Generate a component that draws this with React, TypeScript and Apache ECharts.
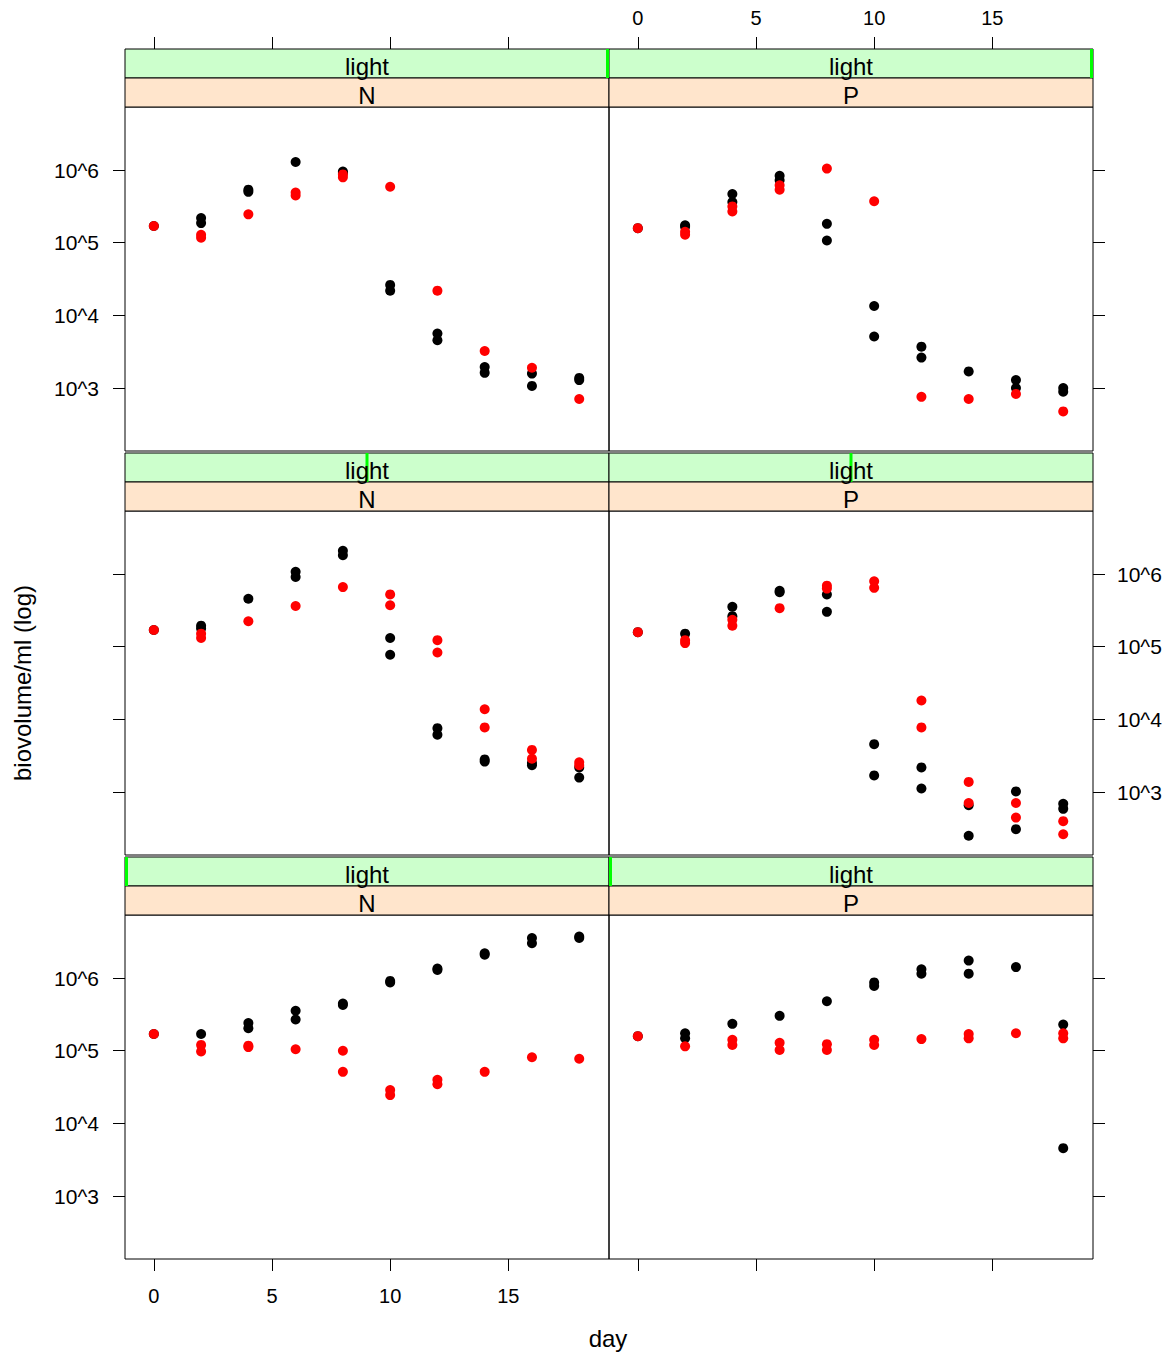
import React, { useEffect, useRef } from "react";
import * as echarts from "echarts";

// ---------- data (log10 of biovolume/ml) ----------
const nutrients = ["N", "P"];
const lightName = "light";
// shingle/level indicator position in each row (top, middle, bottom)
const lightLevelFrac = [1, 0.5, 0];
const xTicks = [0, 5, 10, 15];
const yTicks = [3, 4, 5, 6];
const xTitle = "day";
const yTitle = "biovolume/ml (log)";

// row 1 (top), N
const topNBlack = [[0,5.23],[2,5.34],[2,5.27],[4,5.73],[4,5.7],[6,6.11],[8,5.98],[8,5.96],[10,4.42],[10,4.34],[12,3.75],[12,3.66],[14,3.29],[14,3.21],[16,3.2],[16,3.03],[18,3.14],[18,3.11]];
const topNRed = [[0,5.23],[2,5.11],[2,5.07],[4,5.39],[6,5.69],[6,5.65],[8,5.94],[8,5.9],[10,5.77],[12,4.34],[14,3.51],[16,3.28],[18,2.85]];
// row 1 (top), P
const topPBlack = [[0,5.2],[2,5.24],[2,5.22],[4,5.67],[4,5.56],[6,5.92],[6,5.86],[8,5.26],[8,5.03],[10,4.13],[10,3.71],[12,3.57],[12,3.42],[14,3.23],[16,3.11],[16,3.0],[18,3.0],[18,2.95]];
const topPRed = [[0,5.2],[2,5.15],[2,5.11],[4,5.5],[4,5.43],[6,5.79],[6,5.73],[8,6.02],[10,5.57],[12,2.88],[14,2.85],[16,2.92],[18,2.68]];
// row 2 (middle), N
const midNBlack = [[0,5.23],[2,5.29],[2,5.25],[4,5.66],[6,6.03],[6,5.96],[8,6.32],[8,6.26],[10,5.12],[10,4.89],[12,3.88],[12,3.79],[14,3.45],[14,3.42],[16,3.4],[16,3.37],[18,3.34],[18,3.2]];
const midNRed = [[0,5.23],[2,5.18],[2,5.12],[4,5.35],[6,5.56],[8,5.82],[10,5.72],[10,5.57],[12,5.09],[12,4.92],[14,4.14],[14,3.89],[16,3.58],[16,3.46],[18,3.41],[18,3.37]];
// row 2 (middle), P
const midPBlack = [[0,5.2],[2,5.18],[4,5.55],[4,5.42],[6,5.77],[6,5.75],[8,5.72],[8,5.48],[10,3.66],[10,3.23],[12,3.34],[12,3.05],[14,2.82],[14,2.4],[16,3.01],[16,2.49],[18,2.84],[18,2.77]];
const midPRed = [[0,5.2],[2,5.09],[2,5.05],[4,5.37],[4,5.29],[6,5.53],[8,5.84],[8,5.8],[10,5.9],[10,5.81],[12,4.26],[12,3.89],[14,3.14],[14,2.85],[16,2.85],[16,2.65],[18,2.6],[18,2.42]];
// row 3 (bottom), N
const botNBlack = [[0,5.23],[2,5.23],[4,5.38],[4,5.31],[6,5.55],[6,5.43],[8,5.65],[8,5.63],[10,5.96],[10,5.94],[12,6.13],[12,6.11],[14,6.34],[14,6.32],[16,6.55],[16,6.48],[18,6.57],[18,6.55]];
const botNRed = [[0,5.23],[2,5.08],[2,4.99],[4,5.07],[4,5.05],[6,5.02],[8,5.0],[8,4.71],[10,4.46],[10,4.39],[12,4.6],[12,4.54],[14,4.71],[16,4.91],[18,4.89]];
// row 3 (bottom), P
const botPBlack = [[0,5.2],[2,5.24],[2,5.17],[4,5.37],[6,5.48],[8,5.68],[10,5.94],[10,5.89],[12,6.12],[12,6.06],[14,6.24],[14,6.06],[16,6.15],[18,5.36],[18,3.66]];
const botPRed = [[0,5.2],[2,5.06],[4,5.15],[4,5.08],[6,5.11],[6,5.01],[8,5.09],[8,5.01],[10,5.15],[10,5.08],[12,5.16],[14,5.23],[14,5.17],[16,5.24],[18,5.24],[18,5.17]];

const panelBlack = [topNBlack, topPBlack, midNBlack, midPBlack, botNBlack, botPBlack];
const panelRed = [topNRed, topPRed, midNRed, midPRed, botNRed, botPRed];

// ---------- layout ----------
const FONT = "'Liberation Sans', Arial, Helvetica, sans-serif";
const colLeft = [125, 609];
const panelW = 484;
const rowStart = [49, 453, 857];
const stripH = 29;
const panelH = 344;
const xMin = -1.22, xMax = 19.26;
const yMin = 2.135, yMax = 6.867;

export default function App() {
  const ref = useRef<HTMLDivElement>(null);
  useEffect(() => {
    if (!ref.current) return;
    const chart = echarts.init(ref.current, null, { renderer: "svg" });
    const grids: any[] = [];
    const xAxes: any[] = [];
    const yAxes: any[] = [];
    const series: any[] = [];
    const graphics: any[] = [];
    for (let r = 0; r < 3; r++) {
      for (let c = 0; c < 2; c++) {
        const i = r * 2 + c;
        const top = rowStart[r] + 2 * stripH;
        grids.push({
          left: colLeft[c], top, width: panelW, height: panelH,
          show: true, borderColor: "#000", borderWidth: 1, backgroundColor: "transparent",
          containLabel: false, outerBoundsMode: "none",
        });
        const showXLabel = (r === 0 && c === 1) || (r === 2 && c === 0);
        xAxes.push({
          gridIndex: i, type: "value", min: xMin, max: xMax,
          position: r === 0 ? "top" : "bottom",
          offset: r === 0 ? 2 * stripH : 0,
          axisLine: { show: false, onZero: false }, splitLine: { show: false },
          axisTick: { show: r !== 1, inside: false, length: 12, customValues: xTicks, lineStyle: { color: "#000", width: 1 } },
          axisLabel: { show: showXLabel, customValues: xTicks, margin: r === 0 ? 21 : 27, fontSize: 20, color: "#000", fontFamily: FONT },
        });
        const showYLabel = (c === 0 && r !== 1) || (c === 1 && r === 1);
        yAxes.push({
          gridIndex: i, type: "value", min: yMin, max: yMax,
          position: c === 0 ? "left" : "right",
          axisLine: { show: false, onZero: false }, splitLine: { show: false },
          axisTick: { show: true, inside: false, length: 12, customValues: yTicks, lineStyle: { color: "#000", width: 1 } },
          axisLabel: { show: showYLabel, customValues: yTicks, margin: c === 0 ? 26 : 24, fontSize: 21, color: "#000", fontFamily: FONT,
            formatter: (v: number) => "10^" + Math.round(v) },
        });
        series.push({
          type: "scatter", xAxisIndex: i, yAxisIndex: i, data: panelBlack[i],
          symbol: "circle", symbolSize: 10, itemStyle: { color: "#000", opacity: 1 }, silent: true,
        });
        series.push({
          type: "scatter", xAxisIndex: i, yAxisIndex: i, data: panelRed[i],
          symbol: "circle", symbolSize: 10, itemStyle: { color: "#ff0000", opacity: 1 }, silent: true,
        });
        // strips
        const x0 = colLeft[c];
        const gTop = rowStart[r];
        graphics.push({
          type: "rect", shape: { x: x0, y: gTop, width: panelW, height: stripH },
          style: { fill: "#ccffcc", stroke: "#000", lineWidth: 1 }, z: 10,
        });
        const frac = lightLevelFrac[r];
        const barX = Math.min(Math.max(x0 + frac * panelW - 1.5, x0), x0 + panelW - 3);
        graphics.push({
          type: "rect", shape: { x: barX, y: gTop, width: 3, height: stripH },
          style: { fill: "#00ff00" }, z: 11,
        });
        graphics.push({
          type: "text", x: x0 + panelW / 2, y: gTop + stripH / 2 + 2.5,
          style: { text: lightName, fontSize: 24, fontFamily: FONT, fill: "#000", align: "center", verticalAlign: "middle" }, z: 12,
        });
        graphics.push({
          type: "rect", shape: { x: x0, y: gTop + stripH, width: panelW, height: stripH },
          style: { fill: "#ffe5cc", stroke: "#000", lineWidth: 1 }, z: 10,
        });
        graphics.push({
          type: "text", x: x0 + panelW / 2, y: gTop + stripH * 1.5 + 2.5,
          style: { text: nutrients[c], fontSize: 24, fontFamily: FONT, fill: "#000", align: "center", verticalAlign: "middle" }, z: 12,
        });
      }
    }
    graphics.push({
      type: "text", x: 22, y: 683, rotation: Math.PI / 2,
      style: { text: yTitle, fontSize: 24, fontFamily: FONT, fill: "#000", align: "center", verticalAlign: "middle" },
    });
    graphics.push({
      type: "text", x: 608, y: 1338,
      style: { text: xTitle, fontSize: 24, fontFamily: FONT, fill: "#000", align: "center", verticalAlign: "middle" },
    });
    chart.setOption({
      animation: false,
      backgroundColor: "#fff",
      grid: grids, xAxis: xAxes, yAxis: yAxes, series, graphic: graphics,
    });
    return () => chart.dispose();
  }, []);
  return <div ref={ref} style={{ position: "absolute", left: 0, top: 0, width: 1174, height: 1356 }} />;
}
